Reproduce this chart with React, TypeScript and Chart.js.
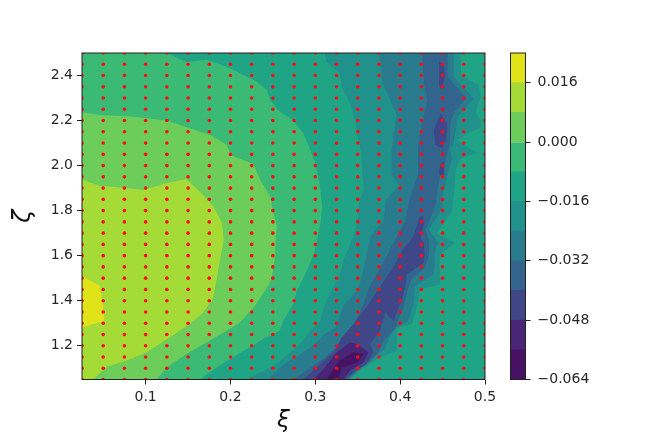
import React, { useEffect, useRef } from "react";
import { Chart, registerables } from "chart.js";

Chart.register(...registerables);

const xiGrid = [0.025, 0.05, 0.075, 0.1, 0.125, 0.15, 0.175, 0.2, 0.225, 0.25, 0.275, 0.3, 0.325, 0.35, 0.375, 0.4, 0.425, 0.45, 0.475, 0.5];
const zetaGrid = [1.05, 1.1, 1.15, 1.2, 1.25, 1.3, 1.35, 1.4, 1.45, 1.5, 1.55, 1.6, 1.65, 1.7, 1.75, 1.8, 1.85, 1.9, 1.95, 2.0, 2.05, 2.1, 2.15, 2.2, 2.25, 2.3, 2.35, 2.4, 2.45, 2.5];
const xiTicks = [0.1, 0.2, 0.3, 0.4, 0.5];
const zetaTicks = [1.2, 1.4, 1.6, 1.8, 2.0, 2.2, 2.4];
const barTicks = [-0.064, -0.048, -0.032, -0.016, 0, 0.016];
const levels = [-0.064, -0.056, -0.048, -0.04, -0.032, -0.024, -0.016, -0.008, 0, 0.008, 0.016, 0.024];
const bandColors = ["#471164", "#482576", "#3f4788", "#32648e", "#287c8e", "#21918c", "#20a486", "#3bba75", "#6ccd5a", "#a5db36", "#dfe318"];

type P = number[][];
const base: P = [[0.025, 1.05], [0.5, 1.05], [0.5, 2.5], [0.025, 2.5]];
const band10: P = [[0.025, 1.51], [0.046, 1.465], [0.049, 1.4], [0.051, 1.34], [0.051, 1.31], [0.027, 1.284], [0.025, 1.284]];
const band9: P = [[0.025, 1.05], [0.025, 1.936], [0.046, 1.911], [0.0737, 1.902], [0.097, 1.892], [0.121, 1.918], [0.148, 1.94], [0.164, 1.884], [0.18, 1.818], [0.19, 1.744], [0.192, 1.67], [0.188, 1.59], [0.184, 1.5], [0.179, 1.406], [0.168, 1.347], [0.152, 1.296], [0.125, 1.229], [0.101, 1.171], [0.078, 1.134], [0.054, 1.107], [0.038, 1.05]];
const band8: P = [[0.025, 2.237], [0.046, 2.225], [0.0855, 2.217], [0.125, 2.2], [0.148, 2.17], [0.176, 2.136], [0.196, 2.091], [0.2, 2.047], [0.227, 2.007], [0.235, 1.936], [0.247, 1.862], [0.25, 1.8], [0.2548, 1.73], [0.2536, 1.693], [0.2526, 1.604], [0.25, 1.53], [0.2466, 1.479], [0.239, 1.435], [0.227, 1.369], [0.211, 1.303], [0.1955, 1.266], [0.172, 1.215], [0.148, 1.163], [0.125, 1.104], [0.113, 1.05], [0.025, 1.05]];
const band7: P = [[0.025, 2.5], [0.125, 2.5], [0.148, 2.46], [0.172, 2.47], [0.195, 2.44], [0.211, 2.41], [0.231, 2.373], [0.243, 2.336], [0.2466, 2.29], [0.258, 2.24], [0.274, 2.2], [0.286, 2.143], [0.294, 2.07], [0.3, 2.01], [0.305, 1.92], [0.308, 1.818], [0.306, 1.744], [0.302, 1.67], [0.298, 1.604], [0.288, 1.516], [0.278, 1.443], [0.274, 1.384], [0.262, 1.31], [0.258, 1.266], [0.239, 1.23], [0.219, 1.185], [0.203, 1.149], [0.184, 1.104], [0.164, 1.05], [0.025, 1.05]];
const band5: P = [[0.311, 2.5], [0.313, 2.46], [0.329, 2.41], [0.331, 2.35], [0.341, 2.276], [0.347, 2.2], [0.35, 2.128], [0.354, 2.055], [0.356, 1.936], [0.357, 1.892], [0.352, 1.847], [0.35, 1.76], [0.347, 1.707], [0.341, 1.648], [0.334, 1.59], [0.329, 1.516], [0.321, 1.457], [0.311, 1.384], [0.306, 1.31], [0.294, 1.266], [0.282, 1.207], [0.266, 1.156], [0.254, 1.119], [0.239, 1.09], [0.219, 1.05], [0.3412, 1.05], [0.353, 1.09], [0.3765, 1.149], [0.396, 1.178], [0.396, 1.278], [0.4137, 1.296], [0.4196, 1.369], [0.4235, 1.45], [0.447, 1.472], [0.4465, 1.545], [0.4473, 1.605], [0.465, 1.656], [0.443, 1.7], [0.451, 1.745], [0.461, 1.796], [0.464, 1.9], [0.4652, 1.973], [0.471, 2.033], [0.4906, 2.055], [0.467, 2.114], [0.481, 2.147], [0.495, 2.168], [0.495, 2.197], [0.489, 2.238], [0.495, 2.306], [0.4926, 2.358], [0.472, 2.4], [0.471, 2.5]];
const band4: P = [[0.375, 2.5], [0.379, 2.365], [0.387, 2.305], [0.396, 2.224], [0.393, 2.158], [0.39, 2.07], [0.39, 1.96], [0.399, 1.91], [0.383, 1.848], [0.381, 1.76], [0.365, 1.686], [0.357, 1.543], [0.351, 1.454], [0.3335, 1.38], [0.3236, 1.277], [0.312, 1.255], [0.298, 1.203], [0.278, 1.152], [0.262, 1.115], [0.244, 1.05], [0.3394, 1.05], [0.3527, 1.104], [0.3704, 1.156], [0.3822, 1.185], [0.3888, 1.25], [0.3951, 1.28], [0.4097, 1.31], [0.4156, 1.384], [0.4175, 1.465], [0.4391, 1.516], [0.4411, 1.56], [0.4405, 1.605], [0.4444, 1.66], [0.434, 1.715], [0.4416, 1.76], [0.4495, 1.81], [0.451, 1.885], [0.456, 1.958], [0.461, 2.032], [0.459, 2.07], [0.463, 2.1], [0.467, 2.195], [0.469, 2.224], [0.4867, 2.298], [0.463, 2.394], [0.463, 2.5]];
const band3: P = [[0.426, 2.5], [0.428, 2.365], [0.432, 2.29], [0.424, 2.158], [0.421, 2.085], [0.421, 1.96], [0.414, 1.885], [0.41, 1.833], [0.406, 1.752], [0.393, 1.664], [0.385, 1.605], [0.377, 1.55], [0.363, 1.454], [0.357, 1.388], [0.347, 1.307], [0.3355, 1.248], [0.3256, 1.196], [0.31, 1.144], [0.294, 1.1], [0.282, 1.07], [0.274, 1.05], [0.3378, 1.05], [0.3488, 1.087], [0.3645, 1.13], [0.3743, 1.17], [0.382, 1.23], [0.394, 1.274], [0.3979, 1.318], [0.4038, 1.369], [0.4077, 1.435], [0.4136, 1.5], [0.4293, 1.545], [0.4338, 1.605], [0.434, 1.664], [0.43, 1.715], [0.436, 1.767], [0.4416, 1.826], [0.4444, 1.9], [0.4475, 1.958], [0.4534, 2.025], [0.4585, 2.1], [0.459, 2.195], [0.465, 2.246], [0.478, 2.298], [0.471, 2.328], [0.456, 2.394], [0.456, 2.5]];
const band2Main: P = [[0.286, 1.05], [0.3015, 1.104], [0.3213, 1.17], [0.331, 1.237], [0.345, 1.296], [0.357, 1.354], [0.3665, 1.406], [0.3745, 1.45], [0.382, 1.494], [0.39, 1.538], [0.398, 1.59], [0.404, 1.634], [0.412, 1.663], [0.417, 1.7], [0.42, 1.737], [0.423, 1.775], [0.427, 1.775], [0.428, 1.737], [0.424, 1.68], [0.428, 1.65], [0.4287, 1.605], [0.428, 1.568], [0.4077, 1.516], [0.4057, 1.457], [0.402, 1.406], [0.392, 1.31], [0.3825, 1.35], [0.376, 1.266], [0.3645, 1.207], [0.3686, 1.17], [0.3606, 1.12], [0.345, 1.082], [0.335, 1.05]];
const band2TopA: P = [[0.446, 2.46], [0.4515, 2.45], [0.4525, 2.39], [0.449, 2.34], [0.446, 2.35]];
const band2TopB: P = [[0.4397, 2.158], [0.4475, 2.232], [0.4554, 2.187], [0.4546, 2.128], [0.4495, 2.077], [0.4416, 2.09]];
const band2TopC: P = [[0.4456, 1.973], [0.448, 2.01], [0.452, 2.02], [0.452, 1.96], [0.45, 1.944], [0.4463, 1.96]];
const band1: P = [[0.298, 1.05], [0.3114, 1.104], [0.3252, 1.17], [0.341, 1.215], [0.3496, 1.207], [0.3625, 1.17], [0.3567, 1.126], [0.341, 1.09], [0.333, 1.05]];
const band0: P = [[0.3134, 1.05], [0.3213, 1.097], [0.329, 1.134], [0.345, 1.17], [0.3567, 1.163], [0.3496, 1.126], [0.331, 1.104], [0.327, 1.05]];

const layers: [P, number][] = [
  [band0, 0], [band1, 1], [band2TopA, 2], [band2TopB, 2], [band2TopC, 2], [band2Main, 2],
  [band3, 3], [band4, 4], [band5, 5], [band10, 10], [band9, 9], [band8, 8], [band7, 7], [base, 6],
];

const INK = "#262626";
const FONT = "'DejaVu Sans'";

const frame = {
  id: "frame",
  afterDatasetsDraw(chart: any) {
    const { left, top, width, height } = chart.chartArea;
    const c = chart.ctx;
    c.save();
    c.strokeStyle = "#222";
    c.lineWidth = 1;
    c.strokeRect(left, top, width, height);
    c.restore();
  },
};

const canvasStyle: React.CSSProperties = { position: "absolute", left: 0, top: 0, width: 650, height: 433, filter: "blur(0.45px)" };

export default function App() {
  const mainRef = useRef<HTMLCanvasElement>(null);
  const barRef = useRef<HTMLCanvasElement>(null);

  useEffect(() => {
    const dots: { x: number; y: number }[] = [];
    for (const x of xiGrid) for (const y of zetaGrid) dots.push({ x, y });

    const main = new Chart(mainRef.current!, {
      type: "line",
      data: {
        datasets: [
          {
            label: "samples",
            data: dots,
            showLine: false,
            pointRadius: 1.8,
            pointBackgroundColor: "#ff0d12",
            pointBorderWidth: 0,
            clip: 0,
          } as any,
          ...layers.map(([poly, band]) => ({
            label: "band" + band,
            data: poly.map(([x, y]) => ({ x, y })),
            fill: "shape",
            backgroundColor: bandColors[band],
            borderWidth: 0,
            pointRadius: 0,
            tension: 0,
          })),
        ],
      },
      options: {
        responsive: false,
        animation: false,
        events: [],
        devicePixelRatio: 1,
        layout: { padding: { left: 0, right: 165, top: 53, bottom: 0 } },
        plugins: { legend: { display: false }, tooltip: { enabled: false } },
        scales: {
          x: {
            type: "linear",
            min: 0.025,
            max: 0.5,
            afterBuildTicks: (s: any) => { s.ticks = xiTicks.map((value) => ({ value })); },
            afterFit: (s: any) => { s.height = 53.5; },
            grid: { drawOnChartArea: false, drawTicks: true, tickLength: 5, color: "#222" },
            border: { display: false },
            ticks: { color: INK, font: { family: FONT, size: 14 }, padding: 4, maxRotation: 0, autoSkip: false, callback: (v: any) => Number(v).toFixed(1) },
            title: { display: true, text: "ξ", color: "#111", font: { family: FONT, size: 23, style: "italic", lineHeight: 1 }, padding: { top: 0, bottom: 0 } },
          },
          y: {
            type: "linear",
            min: 1.05,
            max: 2.5,
            afterBuildTicks: (s: any) => { s.ticks = zetaTicks.map((value) => ({ value })); },
            afterFit: (s: any) => { s.width = 82; },
            grid: { drawOnChartArea: false, drawTicks: true, tickLength: 5, color: "#222" },
            border: { display: false },
            ticks: { color: INK, font: { family: FONT, size: 14 }, padding: 4, autoSkip: false, callback: (v: any) => Number(v).toFixed(1) },
            title: { display: true, text: "ζ", color: "#111", font: { family: FONT, size: 24, style: "italic", lineHeight: 1 }, padding: { top: 12, bottom: 0 } },
          },
        },
      },
      plugins: [frame],
    } as any);

    const bar = new Chart(barRef.current!, {
      type: "bar",
      data: {
        labels: ["colorbar"],
        datasets: bandColors.map((color, i) => ({
          label: "band" + i,
          data: [[levels[i], levels[i + 1]]],
          backgroundColor: color,
          borderWidth: 0,
          barPercentage: 1,
          categoryPercentage: 1,
          grouped: false,
        })) as any,
      },
      options: {
        responsive: false,
        animation: false,
        events: [],
        devicePixelRatio: 1,
        layout: { padding: { left: 510.5, right: 0, top: 53, bottom: 53.5 } },
        plugins: { legend: { display: false }, tooltip: { enabled: false } },
        scales: {
          x: { display: false },
          y: {
            position: "right",
            min: -0.064,
            max: 0.024,
            afterBuildTicks: (s: any) => { s.ticks = barTicks.map((value) => ({ value })); },
            afterFit: (s: any) => { s.width = 124.5; },
            grid: { drawOnChartArea: false, drawTicks: true, tickLength: 5, color: "#222" },
            border: { display: false },
            ticks: {
              color: INK,
              font: { family: FONT, size: 14 },
              padding: 7,
              autoSkip: false,
              callback: (v: any) => (Number(v) < 0 ? "\u2212" : "") + Math.abs(Number(v)).toFixed(3),
            },
          },
        },
      },
      plugins: [frame],
    } as any);

    return () => {
      main.destroy();
      bar.destroy();
    };
  }, []);

  return (
    <div style={{ position: "absolute", left: 0, top: 0, width: 650, height: 433 }}>
      <canvas ref={mainRef} width={650} height={433} style={canvasStyle} />
      <canvas ref={barRef} width={650} height={433} style={canvasStyle} />
    </div>
  );
}
